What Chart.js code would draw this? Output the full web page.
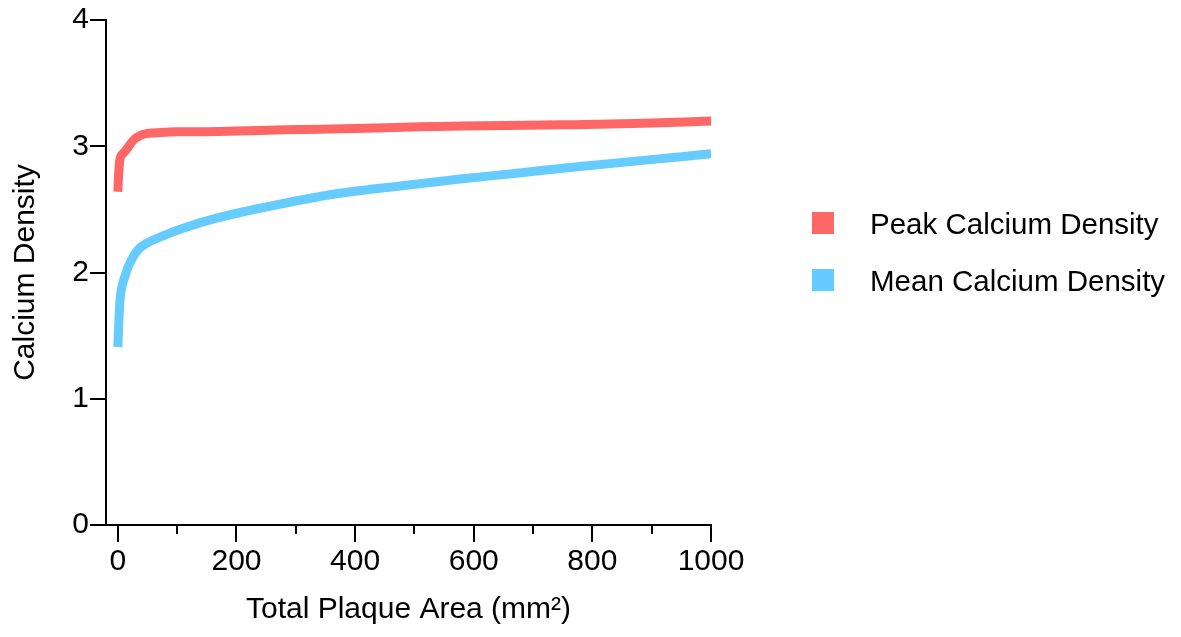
<!DOCTYPE html>
<html>
<head>
<meta charset="utf-8">
<script src="https://cdn.jsdelivr.net/npm/chart.js@4"></script>
<style>
	html, body { margin: 0; padding: 0; background: #fff; }
	#wrap { width: 1181px; height: 637px; }
</style>
</head>
<body>
<div id="wrap"><canvas id="chartID" width="1181" height="637"></canvas></div>
<script>
// values
const peakX = [0, 1, 2, 3, 5, 8, 12, 17, 23, 29, 34, 40, 48, 60, 80, 100, 140, 200, 280, 400, 510, 580, 750, 870, 1000]
const peakY = [2.64, 2.75, 2.83, 2.88, 2.92, 2.94, 2.96, 2.99, 3.03, 3.06, 3.075, 3.09, 3.10, 3.105, 3.11, 3.115, 3.115, 3.12, 3.13, 3.14, 3.155, 3.16, 3.17, 3.18, 3.20]

const meanX = [0, 2, 4, 8, 12, 17, 23, 34, 48, 71, 110, 166, 251, 363, 476, 577, 680, 779, 890, 1000]
const meanY = [1.41, 1.65, 1.80, 1.91, 1.97, 2.04, 2.10, 2.18, 2.23, 2.28, 2.35, 2.43, 2.52, 2.62, 2.685, 2.74, 2.79, 2.84, 2.89, 2.94]

const xTicks = [0, 200, 400, 600, 800, 1000]
const xMinorTicks = [100, 300, 500, 700, 900]
const yTicks = [0, 1, 2, 3, 4]

const seriesLabels = ['Peak Calcium Density', 'Mean Calcium Density']
const seriesColors = ['rgb(255, 102, 102)', 'rgb(102, 204, 255)']

const FONT = '"Liberation Sans", Arial, Helvetica, sans-serif'

function toPoints(xs, ys) {
	return xs.map(function(x, i) { return { x: x, y: ys[i] } })
}

// short ticks between the labelled ones on the x axis
const minorTickPlugin = {
	id: 'minorTicks',
	afterDraw: function(chart) {
		const ctx = chart.ctx
		const xs = chart.scales.x
		ctx.save()
		ctx.strokeStyle = '#000'
		ctx.lineWidth = 2
		xMinorTicks.forEach(function(v) {
			const px = Math.round(xs.getPixelForValue(v))
			ctx.beginPath()
			ctx.moveTo(px, xs.top)
			ctx.lineTo(px, xs.top + 9)
			ctx.stroke()
		})
		ctx.restore()
	},
}

// legend off to the right, square + label
const sideLegendPlugin = {
	id: 'sideLegend',
	afterDraw: function(chart) {
		const ctx = chart.ctx
		ctx.save()
		ctx.font = '29.5px ' + FONT
		ctx.textBaseline = 'alphabetic'
		ctx.textAlign = 'left'
		chart.data.datasets.forEach(function(ds, i) {
			const top = 212 + i * 57
			ctx.fillStyle = ds.borderColor
			ctx.fillRect(812, top, 22, 22)
			ctx.fillStyle = '#000'
			ctx.fillText(ds.label, 870, top + 21.5)
		})
		ctx.restore()
	},
}

function drawLineChart() {
	let chartCtx = document.getElementById('chartID').getContext('2d')
	let datasets = [toPoints(peakX, peakY), toPoints(meanX, meanY)].map(function(pts, i) {
		return {
			label: seriesLabels[i],
			data: pts,
			borderColor: seriesColors[i],
			backgroundColor: seriesColors[i],
			borderWidth: 9,
			borderCapStyle: 'butt',
			borderJoinStyle: 'round',
			cubicInterpolationMode: 'monotone',
			pointRadius: 0,
			fill: false,
		}
	})
	new Chart(chartCtx, {
		type: 'line',
		data: { datasets: datasets },
		plugins: [minorTickPlugin, sideLegendPlugin],
		options: {
			responsive: false,
			animation: false,
			events: [],
			layout: { padding: { top: 20, right: 470, bottom: 0, left: 0 } },
			plugins: {
				legend: { display: false },
				tooltip: { enabled: false },
			},
			scales: {
				x: {
					type: 'linear',
					min: -20,
					max: 1000,
					afterFit: function(s) { s.height = 112 },
					afterBuildTicks: function(s) { s.ticks = xTicks.map(function(v) { return { value: v } }) },
					border: { display: true, color: '#000', width: 2 },
					grid: { display: true, drawOnChartArea: false, color: '#000', lineWidth: 2, tickLength: 17 },
					ticks: {
						color: '#000',
						font: { size: 30, family: FONT },
						padding: 2,
						maxRotation: 0,
						callback: function(v) { return String(v) },
					},
					title: {
						display: true,
						text: 'Total Plaque Area (mm²)',
						color: '#000',
						font: { size: 30, family: FONT },
						padding: { top: 0, bottom: 9 },
					},
				},
				y: {
					min: 0,
					max: 4,
					afterFit: function(s) { s.width = 106 },
					afterBuildTicks: function(s) { s.ticks = yTicks.map(function(v) { return { value: v } }) },
					border: { display: true, color: '#000', width: 2 },
					grid: { display: true, drawOnChartArea: false, color: '#000', lineWidth: 2, tickLength: 16 },
					ticks: {
						color: '#000',
						font: { size: 30, family: FONT },
						padding: 1,
						callback: function(v) { return String(v) },
					},
					title: {
						display: true,
						text: 'Calcium Density',
						color: '#000',
						font: { size: 30, family: FONT },
						padding: { top: 8, bottom: 0 },
					},
				},
			},
		},
	})
}

drawLineChart()
</script>
</body>
</html>
